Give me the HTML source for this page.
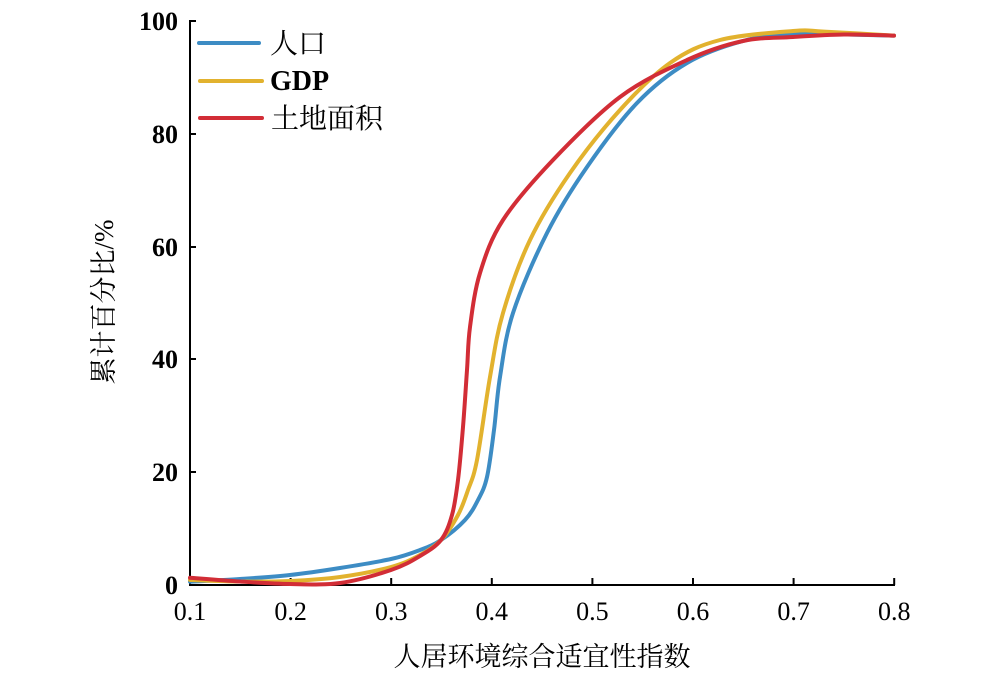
<!DOCTYPE html>
<html><head><meta charset="utf-8"><style>body{margin:0;background:#fff}svg{display:block}</style></head><body>
<svg width="1000" height="674" xmlns="http://www.w3.org/2000/svg" font-family="'Liberation Serif','Noto Serif CJK SC',serif">
<g stroke="#000" stroke-width="2" fill="none">
<path d="M190,20 V585 H895"/>
<path d="M190,21 h6 M190,134 h6 M190,247 h6 M190,359 h6 M190,472 h6"/>
<path d="M290.6,585 v-7 M391.2,585 v-7 M491.8,585 v-7 M592.4,585 v-7 M693,585 v-7 M793.6,585 v-7 M894.2,585 v-7"/>
</g>
<g font-size="26" font-weight="bold" text-anchor="end">
<text x="178" y="30">100</text><text x="178" y="143">80</text><text x="178" y="256">60</text><text x="178" y="368">40</text><text x="178" y="481">20</text><text x="178" y="594">0</text>
</g>
<g font-size="26" text-anchor="middle">
<text x="190" y="620">0.1</text><text x="290.6" y="620">0.2</text><text x="391.2" y="620">0.3</text><text x="491.8" y="620">0.4</text><text x="592.4" y="620">0.5</text><text x="693" y="620">0.6</text><text x="793.6" y="620">0.7</text><text x="894.2" y="620">0.8</text>
</g>
<text x="542" y="666" font-size="27" text-anchor="middle">人居环境综合适宜性指数</text>
<text transform="translate(113,302) rotate(-90)" font-size="27" text-anchor="middle">累计百分比/%</text>
<g fill="none" stroke-width="4" stroke-linejoin="round" stroke-linecap="round">
<path id="pb" stroke="#3d8cc4"/>
<path id="pg" stroke="#e2b22e"/>
<path id="pr" stroke="#d22d36"/>
</g>
<g stroke-width="4" stroke-linecap="round">
<line x1="199" y1="43" x2="259" y2="43" stroke="#3d8cc4"/>
<line x1="200" y1="81" x2="262" y2="81" stroke="#e2b22e"/>
<line x1="200" y1="118" x2="262" y2="118" stroke="#d22d36"/>
</g>
<g font-size="28">
<text x="270" y="53">人口</text>
<text x="270" y="90" font-weight="bold">GDP</text>
<text x="271" y="128">土地面积</text>
</g>
</svg>
<script>
function cr(a){var d="M"+a[0]+","+a[1];var n=a.length/2;
for(var i=0;i<n-1;i++){var p0=i>0?i-1:0,p3=i+2<n?i+2:n-1,p1=i,p2=i+1;
var x0=a[2*p0],y0=a[2*p0+1],x1=a[2*p1],y1=a[2*p1+1],x2=a[2*p2],y2=a[2*p2+1],x3=a[2*p3],y3=a[2*p3+1];
d+=" C"+(x1+(x2-x0)/6)+","+(y1+(y2-y0)/6)+" "+(x2-(x3-x1)/6)+","+(y2-(y3-y1)/6)+" "+x2+","+y2;}
return d;}
document.getElementById("pr").setAttribute("d",cr([190,577.7,240,581.5,290,584,340,583,391,570,420,556,441,540,452,515,458,480,463,427,467,370,470,327,480,273,503,220,553,160,620,97,687,60,743,41,793,37,844,34.5,894,35.6]));
document.getElementById("pg").setAttribute("d",cr([190,580,240,581.5,290,581,340,577,391,567,420,555,441,540,458,515,468,490,477,460,490,377,503,313,530,240,570,173,620,110,670,63,720,40,793,31,824,31.6,894,35.6]));
document.getElementById("pb").setAttribute("d",cr([190,581.7,240,579,290,575,340,568,391,559,420,550,441,540,465,520,478,500,487,477,494,430,500,377,513,313,547,233,587,167,637,103,687,63,743,41,793,34,894,35.6]));
</script>
</body></html>
